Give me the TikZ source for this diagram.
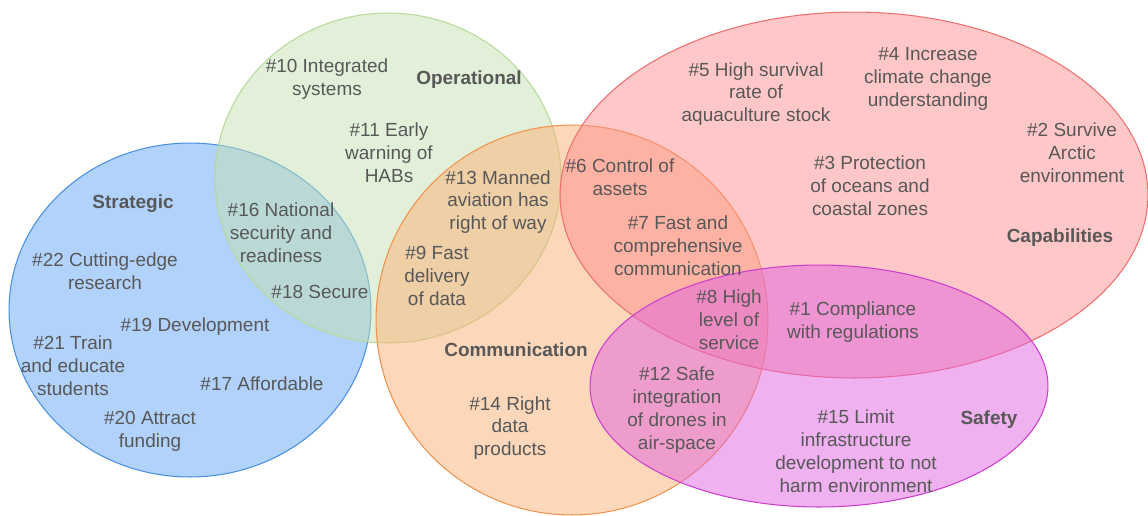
\documentclass[tikz,border=0pt]{standalone}
\usepackage{fontspec}
\setmainfont{Liberation Sans}
\usetikzlibrary{shapes.geometric}
\definecolor{stratfill}{RGB}{100,165,247}
\definecolor{stratline}{RGB}{74,144,226}
\definecolor{operfill}{RGB}{197,225,179}
\definecolor{operline}{RGB}{181,218,154}
\definecolor{commfill}{RGB}{251,175,117}
\definecolor{commline}{RGB}{240,147,78}
\definecolor{capafill}{RGB}{255,143,143}
\definecolor{capaline}{RGB}{240,112,112}
\definecolor{safefill}{RGB}{223,99,223}
\definecolor{safeline}{RGB}{204,63,204}
\definecolor{textgray}{RGB}{88,88,88}

\begin{document}
\begin{tikzpicture}[
        x=0.02cm, y=-0.02cm,
        font=\fontsize{10.8}{13}\selectfont,
        set/.style={ellipse, draw, line width=0.6pt, fill opacity=0.5, inner sep=0pt},
        goal/.style={align=center, text=textgray, inner sep=0pt, yshift=-0.04cm},
        title/.style={goal, font=\fontsize{10.8}{13}\selectfont\bfseries}
    ]
        \useasboundingbox (0,0) rectangle (1148,515);

        % the five sets
        \node[set, fill=stratfill, draw=stratline, minimum width=7.24cm, minimum height=6.68cm] (strategic) at (190,310) {};
        \node[set, fill=operfill, draw=operline, minimum width=6.92cm, minimum height=6.6cm] (operational) at (388,178) {};
        \node[set, fill=commfill, draw=commline, minimum width=7.84cm, minimum height=7.8cm] (communication) at (572,320) {};
        \node[set, fill=capafill, draw=capaline, minimum width=11.76cm, minimum height=7.32cm] (capabilities) at (854,195) {};
        \node[set, fill=safefill, draw=safeline, minimum width=9.16cm, minimum height=4.84cm] (safety) at (819,386) {};

        % set titles
        \node[title] (strategicT) at (133,202) {Strategic};
        \node[title] (operationalT) at (469,78) {Operational};
        \node[title] (communicationT) at (516,348) {Communication};
        \node[title] (capabilitiesT) at (1060,236) {Capabilities};
        \node[title] (safetyT) at (989,418) {Safety};

        % goals
        \node[goal] (g1) at (853,320) {\#1 Compliance\\with regulations};
        \node[goal] (g2) at (1072,151) {\#2 Survive\\Arctic\\environment};
        \node[goal] (g3) at (870,184) {\#3 Protection\\of oceans and\\coastal zones};
        \node[goal] (g4) at (928,77) {\#4 Increase\\climate change\\understanding};
        \node[goal] (g5) at (756,92) {\#5 High survival\\rate of\\aquaculture stock};
        \node[goal] (g6) at (620,175) {\#6 Control of\\assets};
        \node[goal] (g7) at (678,244) {\#7 Fast and\\comprehensive\\communication};
        \node[goal] (g8) at (729,318) {\#8 High\\level of\\service};
        \node[goal] (g9) at (437,274) {\#9 Fast\\delivery\\of data};
        \node[goal] (g10) at (327,77) {\#10 Integrated\\systems};
        \node[goal] (g11) at (389,151) {\#11 Early\\warning of\\HABs};
        \node[goal] (g12) at (677,408) {\#12 Safe\\integration\\of drones in\\air-space};
        \node[goal] (g13) at (498,200) {\#13 Manned\\aviation has\\right of way};
        \node[goal] (g14) at (510,426) {\#14 Right\\data\\products};
        \node[goal] (g15) at (856,449) {\#15 Limit\\infrastructure\\development to not\\harm environment};
        \node[goal] (g16) at (281,231) {\#16 National\\security and\\readiness};
        \node[goal] (g17) at (262,382) {\#17 Affordable};
        \node[goal] (g18) at (320,290) {\#18 Secure};
        \node[goal] (g19) at (195,325) {\#19 Development};
        \node[goal] (g20) at (150,429) {\#20 Attract\\funding};
        \node[goal] (g21) at (73,364) {\#21 Train\\and educate\\students};
        \node[goal] (g22) at (105,269) {\#22 Cutting-edge\\research};
    \end{tikzpicture}
\end{document}
